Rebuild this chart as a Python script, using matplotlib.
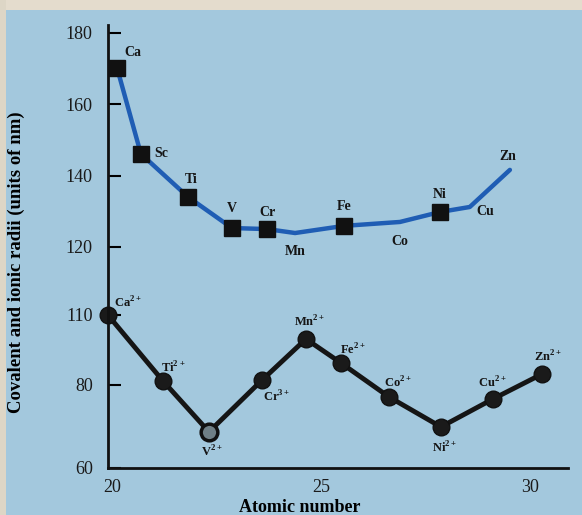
import numpy as np
import matplotlib
matplotlib.use("Agg")
import matplotlib.pyplot as plt
from matplotlib.patches import Rectangle

# Covalent radii (upper curve) - x read off the drawing, not exact atomic numbers
cov_names = ["Ca", "Sc", "Ti", "V", "Cr", "Mn", "Fe", "Co", "Ni", "Cu", "Zn"]
cov_x = [20.12, 20.69, 21.82, 22.87, 23.71, 24.38, 25.55, 26.89, 27.85, 28.56, 29.52]
cov_y = [170.2, 146.1, 134.0, 125.3, 125.0, 123.9, 125.9, 127.0, 129.8, 131.2, 141.6]
cov_marked = [True, True, True, True, True, False, True, False, True, False, False]

# Ionic radii (lower curve)
ion_names = ["Ca$^{2+}$", "Ti$^{2+}$", "V$^{2+}$", "Cr$^{3+}$", "Mn$^{2+}$",
             "Fe$^{2+}$", "Co$^{2+}$", "Ni$^{2+}$", "Cu$^{2+}$", "Zn$^{2+}$"]
ion_x = [19.90, 21.22, 22.32, 23.59, 24.64, 25.48, 26.63, 27.87, 29.11, 30.29]
ion_y = [110.0, 81.7, 68.7, 82.1, 99.7, 89.4, 77.1, 69.9, 76.6, 84.7]

yticks = [60, 80, 110, 120, 140, 160, 180]
xticks = [20, 25, 30]

# label offsets in pixels (dx, dy)
cov_off = [(16, 15), (20, 0), (3, 17), (0, 20), (0, 17), (0, -18), (0, 19),
           (0, -20), (0, 17), (15, -5), (-2, 13)]
ion_off = [(20, 12), (10, 13), (3, -20), (15, -17), (4, 17), (12, 13),
           (9, 14), (4, -21), (0, 16), (6, 17)]

plt.rcParams['font.family'] = ['Liberation Serif', 'DejaVu Serif']
plt.rcParams['mathtext.fontset'] = 'custom'
plt.rcParams['mathtext.rm'] = 'Liberation Serif:bold'
plt.rcParams['mathtext.bf'] = 'Liberation Serif:bold'

# broken (piecewise linear) y scale as drawn in the book
seg_vals = [60, 80, 110, 120, 140, 160, 180, 200]
seg_pos = [0, 83, 153, 221, 292.3, 363.7, 435, 506.3]


def fwd(v):
    return np.interp(v, seg_vals, seg_pos)


def inv(p):
    return np.interp(p, seg_pos, seg_vals)


fig = plt.figure(figsize=(5.82, 5.15), dpi=100, facecolor='#a3c8dd')
# paper edge of the photo
fig.patches.append(Rectangle((0, 1 - 10 / 515), 1, 10 / 515, transform=fig.transFigure,
                             facecolor='#e4dccd', edgecolor='none', zorder=0))
fig.patches.append(Rectangle((0, 0), 6 / 582, 1, transform=fig.transFigure,
                             facecolor='#ddd6c6', edgecolor='none', zorder=0))

ax = fig.add_axes([108 / 582, 1 - 468 / 515, 460 / 582, 443 / 515])
ax.patch.set_alpha(0)
ax.set_yscale('function', functions=(fwd, inv))
ax.set_ylim(60, 182.2)
ax.set_xlim(19.904, 30.91)

# covalent
ax.plot(cov_x, cov_y, color='#1f5db4', lw=3.2, solid_capstyle='round',
        solid_joinstyle='round', zorder=2)
mx = [x for x, m in zip(cov_x, cov_marked) if m]
my = [y for y, m in zip(cov_y, cov_marked) if m]
ax.plot(mx, my, ls='none', marker='s', ms=11, color='#111111', zorder=3, clip_on=False)
for name, x, y, (dx, dy) in zip(cov_names, cov_x, cov_y, cov_off):
    ax.annotate(name, (x, y), xytext=(dx, dy), textcoords='offset pixels',
                ha='center', va='center', fontsize=10, fontweight='bold', color='#151515')

# ionic
ax.plot(ion_x, ion_y, color='#151515', lw=3.5, marker='o', ms=12,
        mfc='#1a1a1a', mec='#111111', zorder=2, clip_on=False)
ax.plot(ion_x[2], ion_y[2], marker='o', ms=12, mfc='#6f7f86', mec='#111111', mew=2.5,
        zorder=3, clip_on=False)
for name, x, y, (dx, dy) in zip(ion_names, ion_x, ion_y, ion_off):
    ax.annotate(name, (x, y), xytext=(dx, dy), textcoords='offset pixels',
                ha='center', va='center', fontsize=9, fontweight='bold', color='#151515')

ax.set_yticks(yticks)
ax.set_yticklabels([str(t) for t in yticks])
ax.set_xticks(xticks)
ax.minorticks_off()
ax.tick_params(axis='y', direction='in', length=9, width=1.5, pad=11, labelsize=13,
               labelcolor='#1a1a1a')
ax.tick_params(axis='x', length=0, pad=8, labelsize=13, labelcolor='#1a1a1a')

for s in ['top', 'right']:
    ax.spines[s].set_visible(False)
for s in ['left', 'bottom']:
    ax.spines[s].set_linewidth(2)
    ax.spines[s].set_color('#111111')

ax.set_xlabel('Atomic number', fontsize=13, fontweight='bold')
ax.xaxis.set_label_coords(0.417, -0.07)
ax.set_ylabel('Covalent and ionic radii (units of nm)', fontsize=13.5, fontweight='bold')
ax.yaxis.set_label_coords(-0.18, 0.465)

fig.savefig('out.png', dpi=100, facecolor=fig.get_facecolor())
